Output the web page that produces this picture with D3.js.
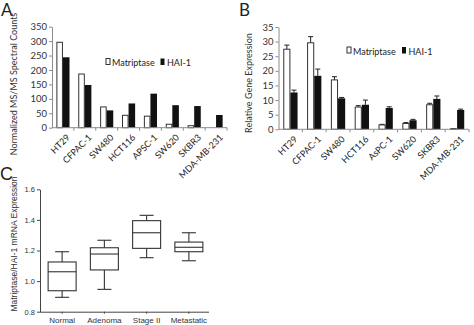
<!DOCTYPE html>
<html>
<head>
<meta charset="utf-8">
<script src="https://cdnjs.cloudflare.com/ajax/libs/d3/7.8.5/d3.min.js"></script>
<style>
  body { margin: 0; background: #fff; }
  svg { display: block; }
  .ab text { font-family: Lato, "Open Sans", sans-serif; }
  .c text { font-family: "Liberation Sans", Arial, sans-serif; }
</style>
</head>
<body>
<div id="chart"></div>
<script>
// panel A: proteomics counts
const cellsA = ['HT29', 'CFPAC-1', 'SW480', 'HCT116', 'APSC-1', 'SW620', 'SKBR3', 'MDA-MB-231'];
const matA = [296, 186, 72, 43, 40, 12, 7, 0];
const haiA = [244, 148, 60, 84, 118, 78, 75, 44];
const ticksA = [0, 50, 100, 150, 200, 250, 300, 350];

// panel B: qPCR with error bars (upper only)
const cellsB = ['HT29', 'CFPAC-1', 'SW480', 'HCT116', 'AsPC-1', 'SW620', 'SKBR3', 'MDA-MB-231'];
const matB = [27.4, 29.6, 16.9, 7.6, 1.5, 2.0, 8.4, 0.15];
const matBerr = [1.4, 2.1, 1.1, 0.5, 0.2, 0.3, 0.5, 0.05];
const haiB = [12.6, 18.3, 10.6, 8.4, 7.3, 3.1, 10.4, 6.6];
const haiBerr = [0.8, 2.3, 0.3, 1.6, 0.4, 0.3, 1.0, 0.3];
const ticksB = [0, 5, 10, 15, 20, 25, 30, 35];

// panel C: box plots
const groupsC = ['Normal', 'Adenoma', 'Stage II', 'Metastatic'];
const lowC = [0.894, 0.946, 1.153, 1.133];
const q1C = [0.937, 1.073, 1.214, 1.192];
const medC = [1.061, 1.177, 1.316, 1.221];
const q3C = [1.125, 1.218, 1.395, 1.255];
const highC = [1.192, 1.267, 1.43, 1.316];
const ticksC = [0.8, 1.0, 1.2, 1.4, 1.6];

const svg = d3.select('#chart').append('svg')
  .attr('width', 474)
  .attr('height', 325);

const AXIS_GRAY = '#8c8c8c';

function barPanel(cfg) {
  const g = svg.append('g').attr('class', 'ab');

  const x = d3.scaleBand().domain(cfg.cats).range(cfg.xr);
  const y = d3.scaleLinear().domain([0, cfg.max]).range(cfg.yr);
  const bw = x.bandwidth() * 0.3;

  const rows = cfg.cats.map((c, i) => ({
    cat: c, mat: cfg.mat[i], hai: cfg.hai[i],
    matErr: cfg.matErr ? cfg.matErr[i] : 0,
    haiErr: cfg.haiErr ? cfg.haiErr[i] : 0
  }));

  // error bars first so bars sit on top of the lower stem
  if (cfg.matErr) {
    const eb = g.selectAll('.err').data(rows.flatMap(d => [
      { cx: x(d.cat) + x.bandwidth() / 2 - bw / 2, v: d.mat, e: d.matErr },
      { cx: x(d.cat) + x.bandwidth() / 2 + bw / 2, v: d.hai, e: d.haiErr }
    ])).enter().append('g');
    eb.append('line')
      .attr('x1', d => d.cx).attr('x2', d => d.cx)
      .attr('y1', d => y(d.v)).attr('y2', d => y(d.v + d.e))
      .attr('stroke', '#222').attr('stroke-width', 1);
    eb.append('line')
      .attr('x1', d => d.cx - 2.5).attr('x2', d => d.cx + 2.5)
      .attr('y1', d => y(d.v + d.e)).attr('y2', d => y(d.v + d.e))
      .attr('stroke', '#222').attr('stroke-width', 1);
  }

  g.selectAll('.mat').data(rows).enter().append('rect')
    .attr('x', d => x(d.cat) + x.bandwidth() / 2 - bw + 0.5)
    .attr('y', d => y(d.mat))
    .attr('width', bw - 1)
    .attr('height', d => y(0) - y(d.mat))
    .attr('fill', '#fff')
    .attr('stroke', '#333')
    .attr('stroke-width', 1);

  g.selectAll('.hai').data(rows).enter().append('rect')
    .attr('x', d => x(d.cat) + x.bandwidth() / 2)
    .attr('y', d => y(d.hai))
    .attr('width', bw)
    .attr('height', d => y(0) - y(d.hai))
    .attr('fill', '#111');

  // y axis
  const ya = g.append('g')
    .attr('transform', `translate(${cfg.xr[0]},0)`)
    .call(d3.axisLeft(y).tickValues(cfg.ticks).tickSize(3).tickSizeOuter(0));
  ya.select('.domain').attr('stroke', AXIS_GRAY);
  ya.selectAll('.tick line').attr('stroke', AXIS_GRAY);
  ya.selectAll('.tick text').attr('font-size', 9.5).attr('fill', '#333').attr('x', -5);

  // x axis: ticks at band edges
  const xa = g.append('g').attr('transform', `translate(0,${cfg.yr[0]})`);
  xa.append('line')
    .attr('x1', cfg.xr[0]).attr('x2', cfg.xr[1])
    .attr('stroke', AXIS_GRAY);
  xa.selectAll('.edge').data(cfg.cats.slice(1).concat(['_end'])).enter().append('line')
    .attr('x1', (d, i) => cfg.xr[0] + x.step() * (i + 1))
    .attr('x2', (d, i) => cfg.xr[0] + x.step() * (i + 1))
    .attr('y1', 0).attr('y2', 3)
    .attr('stroke', AXIS_GRAY);
  xa.selectAll('.lab').data(cfg.cats).enter().append('text')
    .attr('transform', d => `translate(${x(d) + x.bandwidth() / 2 + 3},${6}) rotate(-45)`)
    .attr('text-anchor', 'end')
    .attr('dy', '0.7em')
    .attr('font-size', 9)
    .attr('fill', '#222')
    .text(d => d);

  // y title
  g.append('text')
    .attr('transform', `translate(${cfg.titleX},${cfg.titleY}) rotate(-90)`)
    .attr('text-anchor', 'middle')
    .attr('font-size', 9)
    .attr('fill', '#333')
    .text(cfg.title);

  // legend
  const lg = g.append('g').attr('transform', `translate(${cfg.legX},${cfg.legY})`);
  lg.append('rect').attr('x', 0.5).attr('y', -7.5).attr('width', 4).attr('height', 6)
    .attr('fill', '#fff').attr('stroke', '#333');
  lg.append('text').attr('x', 6.5).attr('y', 0).attr('font-size', 9).attr('fill', '#222').text('Matriptase');
  lg.append('rect').attr('x', cfg.legGap).attr('y', -7.5).attr('width', 4).attr('height', 6.5)
    .attr('fill', '#111');
  lg.append('text').attr('x', cfg.legGap + 6.5).attr('y', 0).attr('font-size', 9).attr('fill', '#222').text('HAI-1');

  // panel letter
  g.append('text')
    .attr('x', cfg.letterX).attr('y', 16)
    .attr('font-size', 17).attr('fill', '#222')
    .attr('font-family', '"Liberation Sans", Arial, sans-serif')
    .text(cfg.letter);
}

barPanel({
  cats: cellsA, mat: matA, hai: haiA, ticks: ticksA, max: 350,
  xr: [52, 227], yr: [127.7, 26.7],
  title: 'Normalized MS/MS Spectral Counts', titleX: 17, titleY: 84,
  legX: 105.5, legY: 66, legGap: 55,
  letter: 'A', letterX: 1
});

barPanel({
  cats: cellsB, mat: matB, hai: haiB, matErr: matBerr, haiErr: haiBerr,
  ticks: ticksB, max: 35,
  xr: [278.5, 469], yr: [129.3, 27],
  title: 'Relative Gene Expression', titleX: 252, titleY: 83,
  legX: 346.5, legY: 54.5, legGap: 55.5,
  letter: 'B', letterX: 239
});

// panel C
const gc = svg.append('g').attr('class', 'c');
const xc = d3.scaleBand().domain(groupsC).range([41, 210]);
const yc = d3.scaleLinear().domain([0.8, 1.6]).range([311.7, 189.3]);
const boxW = 28, capW = 14;

const boxes = groupsC.map((g, i) => ({
  g, low: lowC[i], q1: q1C[i], med: medC[i], q3: q3C[i], high: highC[i]
}));

const bg = gc.selectAll('.box').data(boxes).enter().append('g')
  .attr('transform', d => `translate(${xc(d.g) + xc.bandwidth() / 2},0)`)
  .attr('stroke', '#333').attr('stroke-width', 1.1).attr('fill', 'none');
bg.append('line').attr('x1', 0).attr('x2', 0)
  .attr('y1', d => yc(d.high)).attr('y2', d => yc(d.q3));
bg.append('line').attr('x1', 0).attr('x2', 0)
  .attr('y1', d => yc(d.q1)).attr('y2', d => yc(d.low));
bg.append('line').attr('x1', -capW / 2).attr('x2', capW / 2)
  .attr('y1', d => yc(d.high)).attr('y2', d => yc(d.high));
bg.append('line').attr('x1', -capW / 2).attr('x2', capW / 2)
  .attr('y1', d => yc(d.low)).attr('y2', d => yc(d.low));
bg.append('rect').attr('x', -boxW / 2).attr('width', boxW)
  .attr('y', d => yc(d.q3)).attr('height', d => yc(d.q1) - yc(d.q3))
  .attr('fill', '#fff');
bg.append('line').attr('x1', -boxW / 2).attr('x2', boxW / 2)
  .attr('y1', d => yc(d.med)).attr('y2', d => yc(d.med));

const yca = gc.append('g').attr('transform', 'translate(40,0)')
  .call(d3.axisLeft(yc).tickValues(ticksC).tickFormat(d3.format('.1f')).tickSize(3).tickSizeOuter(0));
yca.select('.domain').attr('stroke', '#444');
yca.selectAll('.tick line').attr('stroke', '#444');
yca.selectAll('.tick text').attr('font-size', 7.5).attr('fill', '#333').attr('x', -5);

const xca = gc.append('g').attr('transform', `translate(0,${yc(0.8)})`)
  .call(d3.axisBottom(xc).tickSize(2).tickSizeOuter(0));
xca.select('.domain').attr('stroke', '#444').attr('d', 'M40,0.5H209');
xca.selectAll('.tick line').attr('stroke', '#444');
xca.selectAll('.tick text').attr('font-size', 8).attr('fill', '#333').attr('y', 6);

gc.append('text')
  .attr('transform', 'translate(17,244) rotate(-90)')
  .attr('text-anchor', 'middle')
  .attr('font-size', 8.5)
  .attr('fill', '#333')
  .text('Matriptase/HAI-1 mRNA Expression');

gc.append('text')
  .attr('x', 0).attr('y', 180)
  .attr('font-size', 18).attr('fill', '#222')
  .text('C');
</script>
</body>
</html>
